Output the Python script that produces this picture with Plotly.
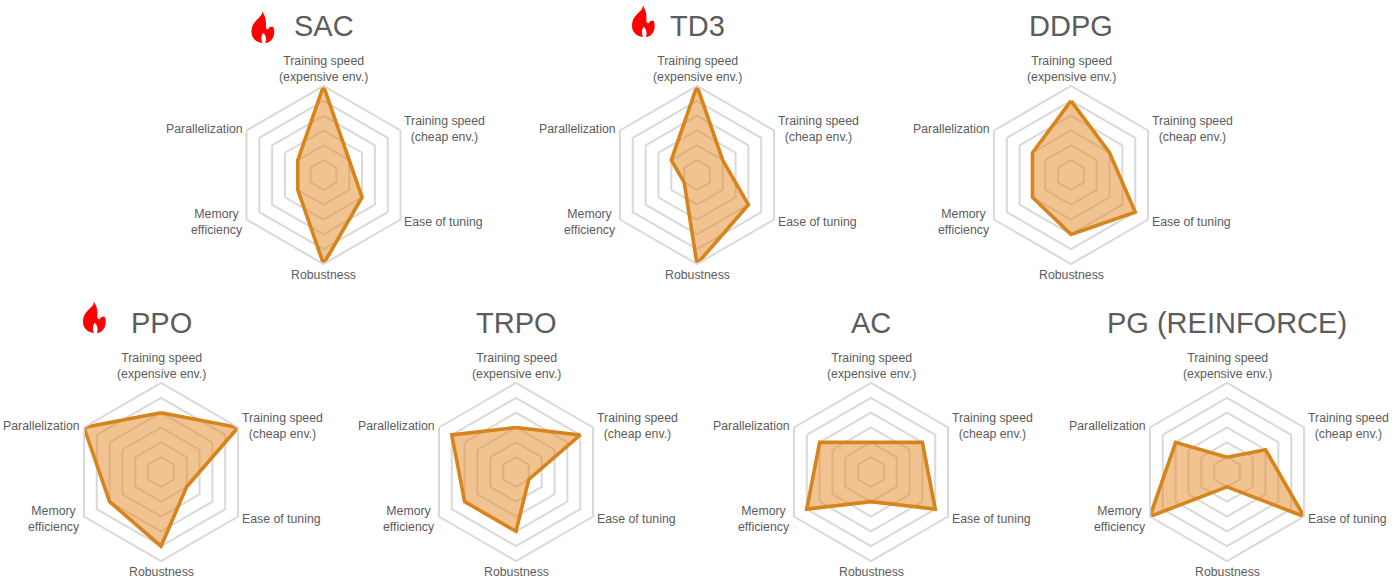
import plotly.graph_objects as go

W, H = 1400, 582
categories = ["Training speed<br>(expensive env.)", "Training speed<br>(cheap env.)", "Ease of tuning",
              "Robustness", "Memory<br>efficiency", "Parallelization"]
algos = ["SAC", "TD3", "DDPG", "PPO", "TRPO", "AC", "PG (REINFORCE)"]
sac = [6, 2, 3, 6, 2, 2]
td3 = [6, 2, 4, 6, 1, 2]
ddpg = [5, 3, 5, 4, 3, 3]
ppo = [4, 6, 2, 5, 4, 6]
trpo = [3, 5, 1, 4, 4, 5]
ac = [2, 4, 5, 2, 5, 4]
pg = [1, 3, 6, 1, 6, 4]
series = [sac, td3, ddpg, ppo, trpo, ac, pg]
ring_ticks = [1, 2, 3, 4, 5, 6]

# layout (pixels)
centers = [(323.5, 175), (697, 175), (1071, 175), (161, 472), (516, 472), (871, 472), (1227, 472)]
R = 89
flames = {"SAC": (251.5, 11), "TD3": (632, 5), "PPO": (83, 301)}
FLAME_W, FLAME_H = 23, 32
# label anchor offsets from the chart centre: dx, dy, xanchor
label_pos = [(0, -106.5, "center"), (79, -46.5, "left"), (79, 46.5, "left"),
             (0, 99.7, "center"), (-79, 46.5, "right"), (-79, -46.5, "right")]

TEXT = "#5C5C5C"
LINE = "#D8841C"
FILL = "rgba(226,135,35,0.5)"
GRID = "#D9D9D9"

px = lambda x: x / W
py = lambda y: 1 - y / H

fig = go.Figure()
layout = dict(width=W, height=H, margin=dict(l=0, r=0, t=0, b=0), showlegend=False,
              paper_bgcolor="white", plot_bgcolor="white",
              font=dict(family="Liberation Sans", color=TEXT))
annotations, shapes = [], []

# flame outline on a unit square, y downward
flame_path = [("M", (0.46, 0.0)),
              ("C", (0.58, 0.14), (0.66, 0.28), (0.62, 0.50)),
              ("C", (0.64, 0.58), (0.74, 0.60), (0.76, 0.52)),
              ("C", (0.80, 0.50), (0.88, 0.48), (0.95, 0.50)),
              ("C", (1.05, 0.70), (0.95, 0.98), (0.60, 1.0)),
              ("C", (0.68, 0.88), (0.62, 0.74), (0.50, 0.68)),
              ("C", (0.42, 0.78), (0.40, 0.90), (0.48, 1.0)),
              ("C", (0.18, 0.98), (0.0, 0.84), (0.0, 0.66)),
              ("C", (0.0, 0.46), (0.12, 0.36), (0.26, 0.26)),
              ("C", (0.40, 0.16), (0.50, 0.10), (0.46, 0.0))]


def flame(x0, y0):
    parts = []
    for seg in flame_path:
        pts = " ".join(f"{px(x0 + a * FLAME_W):.5f},{py(y0 + b * FLAME_H):.5f}" for a, b in seg[1:])
        parts.append(seg[0] + pts)
    return dict(type="path", xref="paper", yref="paper", path=" ".join(parts) + " Z",
                fillcolor="#FF0000", line=dict(width=0))


for i, (name, vals, (cx, cy)) in enumerate(zip(algos, series, centers)):
    key = "polar" if i == 0 else f"polar{i + 1}"
    fig.add_trace(go.Scatterpolar(r=vals + vals[:1], theta=categories + categories[:1], subplot=key,
                                  mode="lines", fill="toself", fillcolor=FILL,
                                  line=dict(color=LINE, width=3.6), name=name))
    layout[key] = dict(
        domain=dict(x=[px(cx - R), px(cx + R)], y=[py(cy + R), py(cy - R)]),
        gridshape="linear", bgcolor="rgba(0,0,0,0)",
        radialaxis=dict(range=[0, 6], tickvals=ring_ticks, showticklabels=False, ticks="",
                        showline=False, gridcolor=GRID, gridwidth=2),
        angularaxis=dict(categoryorder="array", categoryarray=categories, direction="clockwise",
                         rotation=90, showticklabels=False, ticks="", showgrid=False,
                         linecolor=GRID, linewidth=2),
    )
    annotations.append(dict(text=name, xref="paper", yref="paper", x=px(cx), y=py(cy - 149),
                            xanchor="center", yanchor="middle", showarrow=False,
                            font=dict(size=29, color=TEXT)))
    for label, (dx, dy, anchor) in zip(categories, label_pos):
        annotations.append(dict(text=label, xref="paper", yref="paper", x=px(cx + dx), y=py(cy + dy),
                                xanchor=anchor, yanchor="middle", align="center", showarrow=False,
                                font=dict(size=12.3, color=TEXT)))
    if name in flames:
        shapes.append(flame(*flames[name]))

layout["annotations"] = annotations
layout["shapes"] = shapes
fig.update_layout(**layout)
fig.write_html("out.html", config=dict(displayModeBar=False), post_script="document.body.style.margin='0';")
